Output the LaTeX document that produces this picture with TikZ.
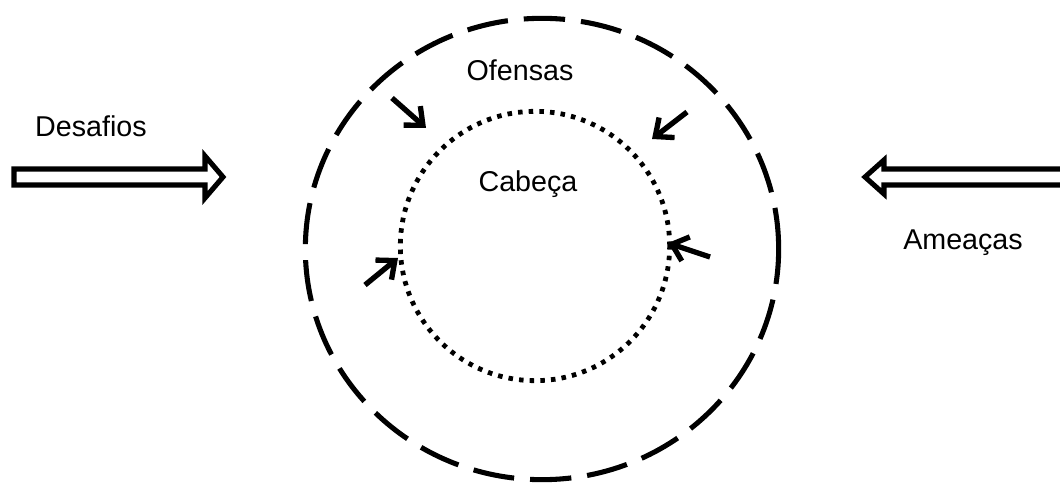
\documentclass[tikz,border=0pt]{standalone}
\usepackage{fontspec}
\setmainfont{Liberation Sans}
\usetikzlibrary{arrows.meta,shapes.geometric}
\begin{document}
\begin{tikzpicture}[x=0.75pt,y=-0.75pt,
  label/.style={font=\fontsize{21.5}{26}\selectfont, inner sep=0pt, anchor=base},
  zone/.style={draw, line width=3.8pt, dash pattern=on 31pt off 12pt, ellipse,
    minimum width=355pt, minimum height=346pt, inner sep=0pt},
  core/.style={draw, line width=3.6pt, dash pattern=on 3.4pt off 4.6pt, circle,
    minimum size=202pt, inner sep=0pt},
  push/.style={line width=4pt, -{Straight Barb[length=11pt,width=19pt,line width=4pt]}},
  bigarrow/.style={draw, line width=3.8pt, fill=white, miter limit=10}]
  \useasboundingbox (0,0) rectangle (1060,484);

  % the two zones
  \node[zone] (outer) at (542,249) {};
  \node[core] (inner) at (535,246) {};

  % labels
  \node[label] (ofensas) at (520,81) {Ofensas};
  \node[label] (cabeca) at (528,192) {Cabeça};
  \node[label] (desafios) at (91,137) {Desafios};
  \node[label] (ameacas) at (963,250) {Ameaças};

  % large hollow arrows
  \draw[bigarrow] (14,169) -- (205,169) -- (205,156) -- (223,177) -- (205,198)
    -- (205,185) -- (14,185) -- cycle;
  \draw[bigarrow] (1075,169) -- (884,169) -- (884,160) -- (865,177) -- (884,194)
    -- (884,185) -- (1075,185);

  % small arrows pressing on the core
  \coordinate (t1) at (392,98);  \coordinate (h1) at (426,128);
  \coordinate (t2) at (687,112); \coordinate (h2) at (652,139);
  \coordinate (t3) at (365,285); \coordinate (h3) at (398,258);
  \coordinate (t4) at (710,257); \coordinate (h4) at (668,243);
  \draw[push] (t1) -- (h1);
  \draw[push] (t2) -- (h2);
  \draw[push] (t3) -- (h3);
  \draw[push] (t4) -- (h4);
\end{tikzpicture}
\end{document}
